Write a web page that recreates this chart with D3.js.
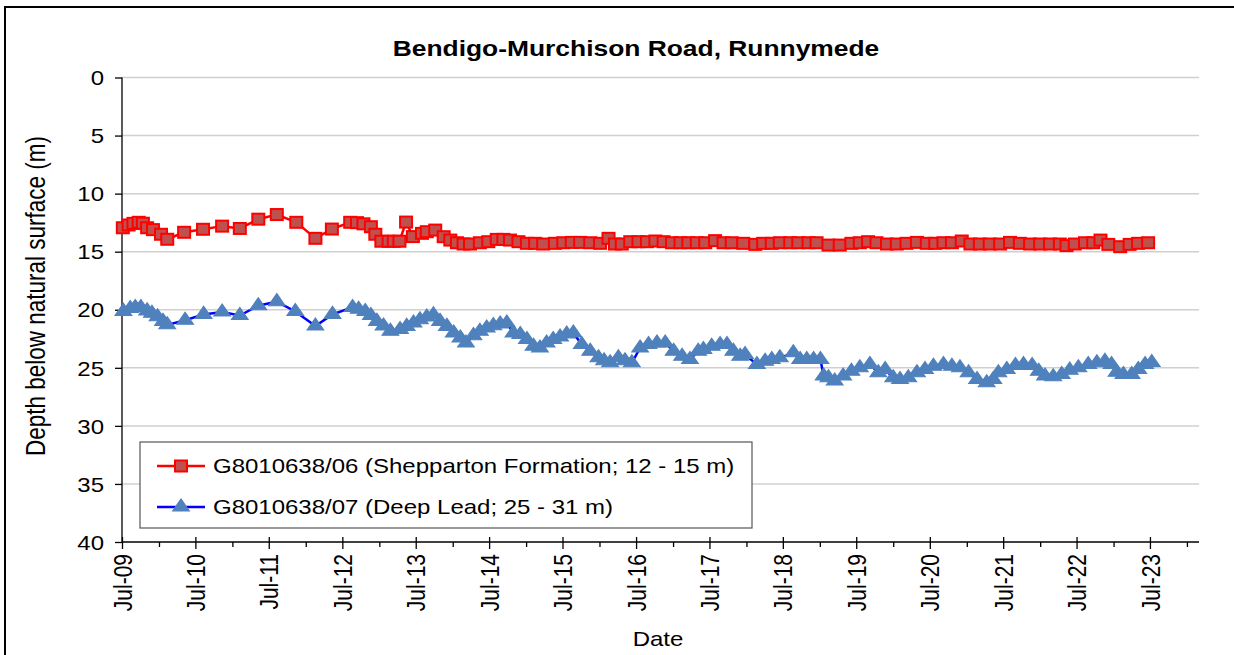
<!DOCTYPE html>
<html><head><meta charset="utf-8">
<script src="https://cdn.jsdelivr.net/npm/d3@7"></script>
<style>
body{margin:0;background:#fff}
svg{display:block}
text{font-family:"Liberation Sans",Arial,Helvetica,sans-serif;fill:#000}
</style>
</head><body>
<svg id="chart" width="1234" height="655"></svg>
<script>
// ---------------- DATA ----------------
const chartTitle = "Bendigo-Murchison Road, Runnymede";
const yAxisTitle = "Depth below natural  surface (m)";
const xAxisTitle = "Date";
const seriesNames = ["G8010638/06 (Shepparton Formation; 12 - 15 m)", "G8010638/07 (Deep Lead; 25 - 31 m)"];
const yTickValues = [0, 5, 10, 15, 20, 25, 30, 35, 40];
const majorTickDates = ["2009-07-01","2010-07-01","2011-07-01","2012-07-01","2013-07-01","2014-07-01","2015-07-01","2016-07-01","2017-07-01","2018-07-01","2019-07-01","2020-07-01","2021-07-01","2022-07-01","2023-07-01"];
const minorTickDates = ["2010-01-01","2011-01-01","2012-01-01","2013-01-01","2014-01-01","2015-01-01","2016-01-01","2017-01-01","2018-01-01","2019-01-01","2020-01-01","2021-01-01","2022-01-01","2023-01-01","2024-01-01"];
const xDomain = ["2009-07-01", "2024-03-01"];

// Series 1: G8010638/06 (Shepparton Formation)
const shepDates = ["2009-07-05","2009-08-03","2009-08-27","2009-09-22","2009-10-13","2009-11-03","2009-12-02","2010-01-11","2010-02-11","2010-05-06","2010-08-08","2010-11-11","2011-02-07","2011-05-10","2011-08-10","2011-11-15","2012-02-18","2012-05-10","2012-08-09","2012-09-12","2012-10-14","2012-11-20","2012-12-12","2013-01-11","2013-02-16","2013-03-14","2013-04-11","2013-05-14","2013-06-17","2013-08-01","2013-08-25","2013-10-06","2013-11-17","2013-12-20","2014-01-22","2014-02-24","2014-03-28","2014-05-16","2014-06-27","2014-08-08","2014-09-10","2014-10-13","2014-11-24","2015-01-05","2015-02-15","2015-03-27","2015-05-24","2015-07-05","2015-08-16","2015-09-27","2015-11-16","2016-01-04","2016-02-15","2016-03-18","2016-04-21","2016-06-02","2016-07-13","2016-08-24","2016-10-05","2016-11-15","2016-12-27","2017-02-07","2017-03-18","2017-04-29","2017-06-10","2017-07-29","2017-09-09","2017-10-20","2017-12-16","2018-02-14","2018-03-25","2018-05-07","2018-06-16","2018-08-07","2018-09-16","2018-11-06","2018-12-16","2019-02-13","2019-04-10","2019-06-07","2019-07-19","2019-08-29","2019-10-10","2019-12-01","2020-01-19","2020-03-07","2020-04-28","2020-06-16","2020-07-28","2020-09-07","2020-10-19","2020-12-07","2021-01-19","2021-03-07","2021-04-25","2021-06-16","2021-08-04","2021-09-22","2021-11-12","2022-01-01","2022-02-19","2022-04-09","2022-05-12","2022-06-22","2022-08-12","2022-09-22","2022-10-28","2022-12-06","2023-02-03","2023-03-22","2023-05-03","2023-06-22"];
const shepDepth = [12.94,12.70,12.56,12.47,12.55,12.94,13.10,13.50,13.93,13.33,13.07,12.80,13.00,12.20,11.80,12.47,13.85,13.05,12.47,12.50,12.60,12.85,13.50,14.10,14.10,14.10,14.10,12.45,13.70,13.42,13.28,13.14,13.71,14.00,14.23,14.34,14.34,14.23,14.14,13.94,13.94,14.00,14.14,14.28,14.28,14.34,14.28,14.23,14.20,14.20,14.23,14.28,13.85,14.34,14.34,14.14,14.14,14.14,14.08,14.14,14.23,14.23,14.23,14.23,14.23,14.05,14.23,14.23,14.28,14.37,14.28,14.28,14.23,14.23,14.23,14.23,14.23,14.43,14.43,14.28,14.23,14.14,14.23,14.34,14.34,14.28,14.20,14.28,14.28,14.23,14.23,14.08,14.34,14.34,14.34,14.34,14.20,14.28,14.34,14.34,14.34,14.34,14.48,14.34,14.23,14.23,14.00,14.37,14.57,14.37,14.28,14.23];

// Series 2: G8010638/07 (Deep Lead)
const deepDates = ["2009-07-08","2009-08-11","2009-09-05","2009-10-03","2009-11-03","2009-11-27","2009-12-25","2010-01-21","2010-02-11","2010-05-11","2010-08-11","2010-11-11","2011-02-07","2011-05-10","2011-08-10","2011-11-10","2012-02-18","2012-05-13","2012-08-21","2012-09-20","2012-10-23","2012-11-20","2012-12-20","2013-01-22","2013-02-25","2013-04-14","2013-05-17","2013-06-20","2013-07-22","2013-08-25","2013-09-27","2013-10-30","2013-12-03","2014-01-06","2014-02-08","2014-03-08","2014-04-14","2014-05-16","2014-06-19","2014-07-22","2014-08-25","2014-09-27","2014-10-30","2014-12-03","2015-01-05","2015-02-07","2015-03-11","2015-04-13","2015-05-16","2015-06-19","2015-07-22","2015-08-24","2015-10-05","2015-11-16","2015-12-27","2016-01-24","2016-02-23","2016-04-04","2016-05-07","2016-06-10","2016-07-21","2016-09-01","2016-10-13","2016-11-23","2017-01-04","2017-02-15","2017-03-26","2017-05-06","2017-06-01","2017-07-12","2017-08-23","2017-09-26","2017-10-28","2017-12-01","2017-12-25","2018-02-22","2018-04-04","2018-05-07","2018-06-16","2018-08-22","2018-09-25","2018-10-28","2018-12-01","2019-01-04","2019-01-20","2019-02-13","2019-03-16","2019-04-27","2019-06-07","2019-07-19","2019-09-07","2019-10-19","2019-11-22","2020-01-01","2020-02-04","2020-03-16","2020-04-28","2020-06-07","2020-07-19","2020-09-07","2020-10-19","2020-11-28","2021-01-10","2021-02-21","2021-04-10","2021-05-13","2021-06-07","2021-07-19","2021-08-31","2021-10-10","2021-11-22","2021-12-25","2022-01-25","2022-03-07","2022-04-18","2022-05-28","2022-07-10","2022-08-28","2022-10-10","2022-11-19","2022-12-22","2023-01-16","2023-02-19","2023-04-01","2023-05-04","2023-06-07","2023-07-10"];
const deepDepth = [20.14,19.90,19.80,19.80,20.10,20.30,20.60,21.00,21.30,20.90,20.40,20.20,20.50,19.65,19.30,20.15,21.40,20.40,19.80,19.95,20.15,20.50,21.00,21.40,21.85,21.70,21.43,21.14,20.86,20.63,20.43,21.00,21.43,22.00,22.43,22.86,22.23,21.86,21.57,21.37,21.23,21.14,22.00,22.14,22.57,23.14,23.29,22.86,22.57,22.34,22.09,22.00,23.00,23.57,24.14,24.40,24.57,24.14,24.40,24.57,23.29,23.00,22.86,22.86,23.57,24.00,24.29,23.57,23.43,23.14,23.00,23.00,23.57,24.00,23.86,24.71,24.43,24.29,24.14,23.71,24.29,24.29,24.29,24.29,25.71,25.86,26.14,25.71,25.29,25.00,24.71,25.43,25.14,25.86,26.00,25.86,25.43,25.14,24.86,24.71,24.86,25.00,25.43,26.00,26.29,26.00,25.43,25.14,24.80,24.71,24.80,25.29,25.71,25.77,25.57,25.20,25.00,24.71,24.57,24.43,24.71,25.37,25.57,25.57,25.14,24.71,24.55];

// ---------------- CHART ----------------
const parse = d3.timeParse("%Y-%m-%d");
const svg = d3.select("#chart");
const W = 1234, H = 655;
const SX = 1.2;   // horizontal stretch of the original picture
const plot = {left: 122, right: 1199, top: 77.5, bottom: 542};
// horizontal stretch about an anchor point (screen space)
const stretch = (ax, ay) => `translate(${ax},${ay}) scale(${SX},1) translate(${-ax},${-ay})`;

// outer frame
svg.append("rect").attr("x", 5).attr("y", 7).attr("width", W + 10).attr("height", H + 10)
  .attr("fill", "#fff").attr("stroke", "#000").attr("stroke-width", 2);

const x = d3.scaleTime().domain(xDomain.map(parse)).range([plot.left, plot.right]);
const y = d3.scaleLinear().domain([0, 40]).range([plot.top, plot.bottom]);

// gridlines
svg.append("g").selectAll("line").data(yTickValues.filter(v => v < 40)).join("line")
  .attr("x1", plot.left).attr("x2", plot.right)
  .attr("y1", d => y(d)).attr("y2", d => y(d))
  .attr("stroke", "#d0d0d0").attr("stroke-width", 1.5);

// y axis
const yAxis = svg.append("g").attr("transform", `translate(${plot.left},0)`)
  .call(d3.axisLeft(y).tickValues(yTickValues).tickSize(7).tickPadding(11).tickFormat(d3.format("d")));
yAxis.select(".domain").remove();
yAxis.selectAll(".tick line").attr("stroke", "#000").attr("stroke-width", 1.3);
yAxis.selectAll(".tick text").attr("font-size", 20).attr("font-family", null).attr("dy", "0.36em")
  .attr("transform", stretch(-18, 0));
svg.append("line").attr("x1", plot.left).attr("x2", plot.left).attr("y1", plot.top).attr("y2", plot.bottom)
  .attr("stroke", "#000").attr("stroke-width", 1.3);

// x axis
const xAxis = svg.append("g").attr("transform", `translate(0,${plot.bottom})`)
  .call(d3.axisBottom(x).tickValues(majorTickDates.map(parse)).tickSize(7).tickFormat(d3.timeFormat("%b-%y")));
xAxis.select(".domain").remove();
xAxis.selectAll(".tick line").attr("y1", -5).attr("y2", 7).attr("stroke", "#000").attr("stroke-width", 1.3);
xAxis.selectAll(".tick text")
  .attr("font-size", 21).attr("font-family", null)
  .attr("text-anchor", "end")
  .attr("transform", `scale(${SX},1) rotate(-90)`)
  .attr("x", -12).attr("y", 0).attr("dy", "0.36em");
const xMinor = svg.append("g").attr("transform", `translate(0,${plot.bottom})`)
  .call(d3.axisBottom(x).tickValues(minorTickDates.map(parse)).tickSize(5).tickFormat(""));
xMinor.select(".domain").remove();
xMinor.selectAll(".tick line").attr("stroke", "#000").attr("stroke-width", 1.3);
svg.append("line").attr("x1", plot.left).attr("x2", plot.right).attr("y1", plot.bottom).attr("y2", plot.bottom)
  .attr("stroke", "#000").attr("stroke-width", 1.3);

// series
const shep = shepDates.map((d, i) => ({date: parse(d), v: shepDepth[i]}));
const deep = deepDates.map((d, i) => ({date: parse(d), v: deepDepth[i]}));
const line = d3.line().x(d => x(d.date)).y(d => y(d.v));

const redLine = "#ff0000", redFill = "#c0504d";
const blueLine = "#0000ff", blueFill = "#4f81bd";
const sqW = 12, sqH = 11;
const tri = d3.symbol().type(d3.symbolTriangle).size(84);

svg.append("path").datum(shep).attr("d", line).attr("fill", "none").attr("stroke", redLine).attr("stroke-width", 2.5);
svg.append("g").selectAll("rect").data(shep).join("rect")
  .attr("x", d => x(d.date) - sqW / 2).attr("y", d => y(d.v) - sqH / 2)
  .attr("width", sqW).attr("height", sqH)
  .attr("fill", redFill).attr("stroke", redLine).attr("stroke-width", 2);

svg.append("path").datum(deep).attr("d", line).attr("fill", "none").attr("stroke", blueLine).attr("stroke-width", 2.5);
svg.append("g").selectAll("path").data(deep).join("path")
  .attr("d", tri)
  .attr("transform", d => `translate(${x(d.date)},${y(d.v)}) scale(${SX},1)`)
  .attr("fill", blueFill).attr("stroke", blueFill).attr("stroke-width", 1);

// title
svg.append("text").attr("x", 636).attr("y", 56).attr("text-anchor", "middle")
  .attr("font-size", 22).attr("font-weight", "bold").attr("transform", stretch(636, 56)).text(chartTitle);

// axis titles
svg.append("text").attr("transform", `translate(45,296) scale(${SX},1) rotate(-90)`).attr("text-anchor", "middle")
  .attr("font-size", 22.5).text(yAxisTitle);
svg.append("text").attr("x", 658).attr("y", 646).attr("text-anchor", "middle")
  .attr("font-size", 20).attr("transform", stretch(658, 646)).text(xAxisTitle);

// legend
const lg = svg.append("g");
lg.append("rect").attr("x", 140).attr("y", 442).attr("width", 612).attr("height", 86)
  .attr("fill", "#fff").attr("stroke", "#555").attr("stroke-width", 1.2);
const rows = [
  {name: seriesNames[0], yy: 466, stroke: redLine, kind: "sq"},
  {name: seriesNames[1], yy: 507, stroke: blueLine, kind: "tri"}
];
rows.forEach(r => {
  lg.append("line").attr("x1", 157).attr("x2", 205).attr("y1", r.yy).attr("y2", r.yy)
    .attr("stroke", r.stroke).attr("stroke-width", 2.5);
  if (r.kind === "sq") {
    lg.append("rect").attr("x", 181 - sqW / 2).attr("y", r.yy - sqH / 2).attr("width", sqW).attr("height", sqH)
      .attr("fill", redFill).attr("stroke", redLine).attr("stroke-width", 2);
  } else {
    lg.append("path").attr("d", tri).attr("transform", `translate(181,${r.yy}) scale(${SX},1)`)
      .attr("fill", blueFill).attr("stroke", blueFill).attr("stroke-width", 1);
  }
  lg.append("text").attr("x", 213).attr("y", r.yy).attr("dy", "0.36em").attr("font-size", 20)
    .attr("transform", stretch(213, r.yy)).text(r.name);
});
</script>
</body></html>
